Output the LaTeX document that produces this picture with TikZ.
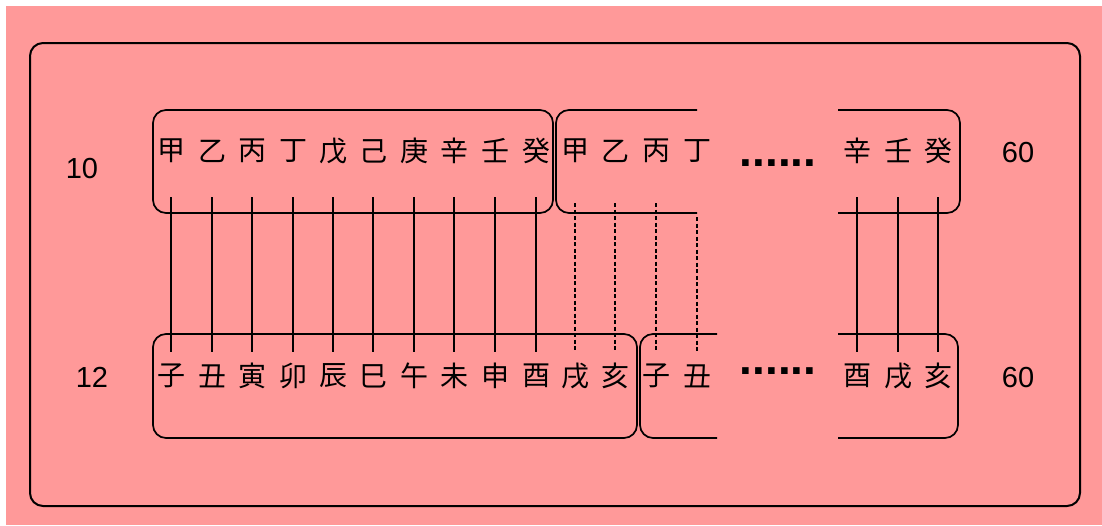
\documentclass[tikz,border=0pt]{standalone}
\usepackage{fontspec}
\setmainfont{Liberation Sans}
\newfontfamily\cjk{Noto Sans CJK JP}
\definecolor{bgpink}{RGB}{255,153,153}
\begin{document}
\begin{tikzpicture}[x=1pt,y=-1pt,
  frame/.style={draw=black,line width=1.7pt,rounded corners=13pt},
  outer/.style={draw=black,line width=2pt,rounded corners=13pt},
  tick/.style={draw=black,line width=1.7pt},
  dtick/.style={draw=black,line width=1.7pt,dash pattern=on 4pt off 2.5pt},
  kan/.style={font=\cjk\fontsize{28}{28}\selectfont,inner sep=0pt},
  num/.style={font=\fontsize{29}{29}\selectfont,inner sep=0pt},
  dotrow/.style={font=\bfseries\fontsize{46}{46}\selectfont,inner sep=0pt,anchor=base}]
\useasboundingbox (0,0) rectangle (1102,525);
\fill[bgpink] (6,6) rectangle (1102,525);
% outer frame
\draw[outer] (30,43) rectangle (1080,506);
% boxes top
\draw[frame] (153,110) rectangle (553,213);
\draw[frame] (697,110) -- (556,110) -- (556,213) -- (697,213);
\draw[frame] (838,110) -- (960,110) -- (960,213) -- (838,213);
% boxes bottom
\draw[frame] (153,334) rectangle (637,438);
\draw[frame] (717,334) -- (640,334) -- (640,438) -- (717,438);
\draw[frame] (838,334) -- (958,334) -- (958,438) -- (838,438);
% top characters
\foreach \n/\x/\c in {1/171/甲,2/212/乙,3/252/丙,4/293/丁,5/333/戊,6/373/己,7/414/庚,8/454/辛,9/495/壬,10/536/癸,11/575/甲,12/615/乙,13/656/丙,14/697/丁,15/857/辛,16/898/壬,17/938/癸}
  \node[kan] (t\n) at (\x,151) {\c};
% bottom characters
\foreach \n/\x/\c in {1/171/子,2/212/丑,3/252/寅,4/293/卯,5/333/辰,6/373/巳,7/414/午,8/454/未,9/495/申,10/536/酉,11/575/戌,12/615/亥,13/656/子,14/697/丑,15/857/酉,16/898/戌,17/938/亥}
  \node[kan] (b\n) at (\x,376) {\c};
% reference heights
\coordinate (ytop) at (0,197);
\coordinate (ytopd) at (0,203);
\coordinate (ytope) at (0,217);
\coordinate (ybot) at (0,352);
% solid links
\foreach \n in {1,...,10,15,16,17}
  \draw[tick] (t\n |- ytop) -- (b\n |- ybot);
% dashed links
\foreach \n in {11,12,13}
  \draw[dtick] (t\n |- ytopd) -- (b\n |- ybot);
\draw[dtick] (t14 |- ytope) -- (b14 |- ybot);
% ellipses
\node[dotrow] (dt) at (778,166) {......};
\node[dotrow] (db) at (778,374) {......};
% labels
\node[num] (l10) at (82,169) {10};
\node[num] (l12) at (92,377) {12};
\node[num] (r60a) at (1018,153) {60};
\node[num] (r60b) at (1018,378) {60};
\end{tikzpicture}
\end{document}
